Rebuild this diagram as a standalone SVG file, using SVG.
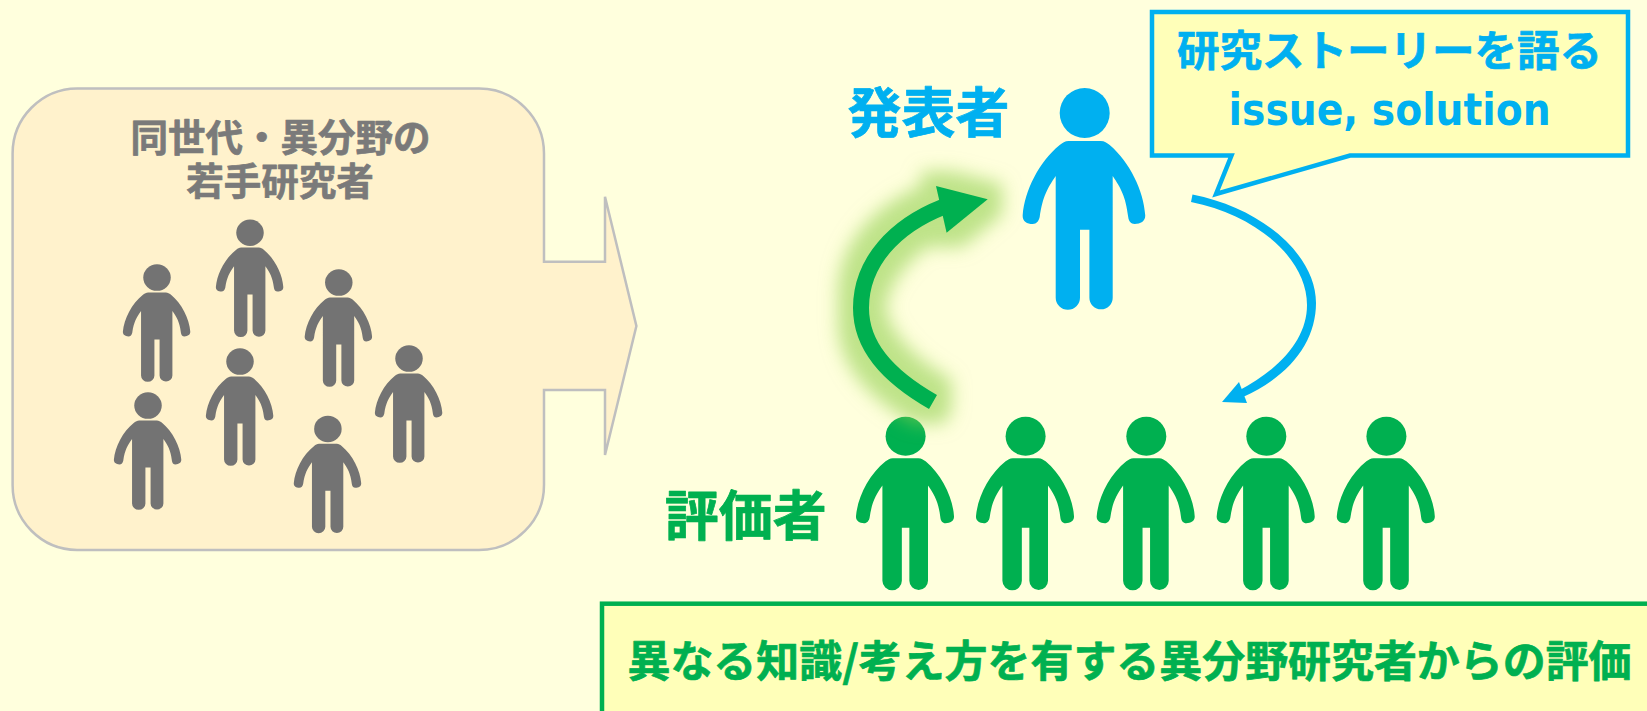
<svg xmlns="http://www.w3.org/2000/svg" width="1647" height="711" viewBox="0 0 1647 711">
<style>
text{font-family:"Noto Sans CJK JP","Noto Sans",sans-serif;font-weight:700;text-anchor:middle;stroke-width:.7px;stroke-linejoin:round}
.gray{fill:#737373}.blue{fill:#00B0F0;stroke:#00B0F0}.green{fill:#00B050;stroke:#00B050}
.gt{fill:#7A7A7A;stroke:#7A7A7A;font-size:37.500px}
.bubble{fill:#FFFFB9;stroke-width:4.500}
text.latin{font-family:"DejaVu Sans",sans-serif;stroke-width:0}
</style>
<defs>
<g id="person">
<circle cx="0" cy="25" r="25"/>
<path d="M-16,53H16C20,53 22,55 25,57C45,74 59,103 60.500,127C61,133 56,136 50,136C46,136 44,133 43.500,129C41,108 36,100 28,88V209.650A11.650,11.650 0 0 1 4.700,209.650V141.700H-4.700V209.650A11.650,11.650 0 0 1 -29,209.650V88C-37,100 -42,108 -45,129C-46,133 -48,136 -52,136C-58,136 -62.500,133 -62,127C-60,103 -46,74 -25,57C-22,55 -20,53 -16,53Z"/>
</g>
<filter id="glow" x="-60%" y="-40%" width="220%" height="180%" color-interpolation-filters="sRGB">
<feMorphology in="SourceAlpha" operator="dilate" radius="15" result="d"/>
<feGaussianBlur in="d" stdDeviation="9" result="b"/>
<feFlood flood-color="#92D050" flood-opacity="0.6"/>
<feComposite in2="b" operator="in" result="g"/>
<feMerge><feMergeNode in="g"/><feMergeNode in="SourceGraphic"/></feMerge>
</filter>
</defs>
<rect id="background" width="1647" height="711" fill="#FFFFDD"/>
<g id="peer-callout">
<path d="M77,88.500H479A65,65 0 0 1 544,153.500V261.700H605V196.700L636.400,326L605,455V390H544V485A65,65 0 0 1 479,550H77A65,65 0 0 1 12.600,485V153.500A65,65 0 0 1 77,88.500Z" fill="#FFF2CC" stroke="#BFBFBF" stroke-width="2.500"/>
<text class="gt" x="280.500" y="151">同世代・異分野の</text>
<text class="gt" x="280" y="195">若手研究者</text>
</g>
<g id="peer-1" class="gray"><use href="#person" transform="translate(157,264.300) scale(.55,.53)"/></g>
<g id="peer-2" class="gray"><use href="#person" transform="translate(250,219.500) scale(.55,.53)"/></g>
<g id="peer-3" class="gray"><use href="#person" transform="translate(338.800,269.300) scale(.55,.53)"/></g>
<g id="peer-4" class="gray"><use href="#person" transform="translate(240,348.300) scale(.55,.53)"/></g>
<g id="peer-5" class="gray"><use href="#person" transform="translate(409,345.300) scale(.55,.53)"/></g>
<g id="peer-6" class="gray"><use href="#person" transform="translate(148,392.300) scale(.55,.53)"/></g>
<g id="peer-7" class="gray"><use href="#person" transform="translate(327.900,415.700) scale(.55,.53)"/></g>
<g id="presenter" class="blue">
<use href="#person" transform="translate(1084.700,88)" stroke="none"/>
<text x="928.500" y="133" font-size="54">発表者</text>
</g>
<g id="story-bubble">
<path class="bubble" d="M1152,12H1628V155.500H1350L1216,194L1231.500,155.500H1152Z" stroke="#00B0F0"/>
<text class="blue" x="1389.600" y="66" font-size="42.500">研究ストーリーを語る</text>
<text class="blue latin" x="1389.600" y="125" font-size="44" textLength="322" lengthAdjust="spacingAndGlyphs">issue, solution</text>
</g>
<g id="evaluator-1" class="green"><use href="#person" transform="translate(905.600,416.700) scale(.8,.783)" stroke="none"/></g>
<g id="evaluator-2" class="green"><use href="#person" transform="translate(1025.600,416.700) scale(.8,.783)" stroke="none"/></g>
<g id="evaluator-3" class="green"><use href="#person" transform="translate(1146.300,416.700) scale(.8,.783)" stroke="none"/></g>
<g id="evaluator-4" class="green"><use href="#person" transform="translate(1266.300,416.700) scale(.8,.783)" stroke="none"/></g>
<g id="evaluator-5" class="green"><use href="#person" transform="translate(1386.400,416.700) scale(.8,.783)" stroke="none"/></g>
<g id="evaluator-label"><text class="green" x="745.700" y="536" font-size="54">評価者</text></g>
<g id="evaluation-box">
<rect class="bubble" x="602" y="603.700" width="1100" height="200" stroke="#00B050"/>
<text class="green" x="1129.500" y="677" font-size="43" textLength="1004" lengthAdjust="spacingAndGlyphs">異なる知識/考え方を有する異分野研究者からの評価</text>
</g>
<g id="connectors">
<g filter="url(#glow)">
<path d="M933,402C886,375 861,345 861,308C861,262 895,226 943,207" fill="none" stroke="#00B050" stroke-width="16"/>
<path d="M987.700,199.300L936,186L946.600,232.700Z" fill="#00B050"/>
</g>
<path d="M1192.500,194.500C1262,208 1316,255 1316,303C1316,340 1292,375 1243,397L1238,391C1282,368 1307,338 1307,305C1307,258 1256,215 1191,202Z" fill="#00B0F0"/>
<path d="M1222,402L1239,382L1247,403Z" fill="#00B0F0"/>
</g>
</svg>
